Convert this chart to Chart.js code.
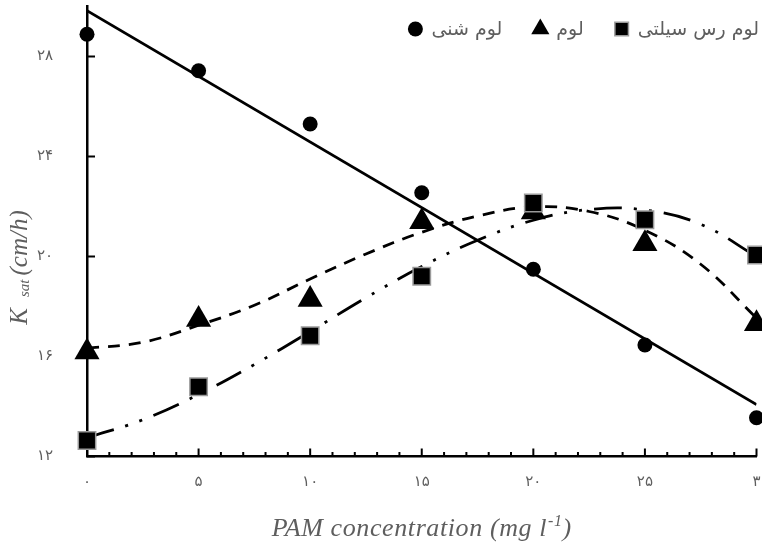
<!DOCTYPE html>
<html><head><meta charset="utf-8">
<script src="https://cdn.jsdelivr.net/npm/chart.js@4.4.1/dist/chart.umd.min.js"></script>
<style>html,body{margin:0;padding:0;background:#fff}#wrap{width:762px;height:544px;position:relative}</style>
</head><body><div id="wrap"><canvas id="c"></canvas></div>
<script>
// ---- data ----
const concentrations = [0, 5, 10, 15, 20, 25, 30];
const sandyLoam     = [28.89, 27.43, 25.30, 22.55, 19.49, 16.46, 13.55];
const loam          = [16.18, 17.48, 18.28, 21.39, 21.78, 20.51, 17.31];
const siltyClayLoam = [12.64, 14.79, 16.83, 19.21, 22.14, 21.47, 20.06];
// fitted trend lines
const sandyTrendX = [0, 30];
const sandyTrend  = [29.83, 14.08];
const curveX     = [0, 2.5, 5, 7.5, 10, 12.5, 15, 17.5, 20, 22.5, 25, 27.5, 30];
const loamTrend  = [16.33, 16.57, 17.25, 18.05, 19.10, 20.10, 20.97, 21.62, 21.98, 21.80, 21.05, 19.69, 17.54];
const siltyTrend = [12.75, 13.47, 14.48, 15.68, 17.00, 18.35, 19.60, 20.65, 21.45, 21.88, 21.86, 21.29, 20.00];
const seriesNames = ['لوم شنی', 'لوم', 'لوم رس سیلتی'];
const xTickValues = [0, 5, 10, 15, 20, 25, 30];
const xTickLabels = ['۰', '۵', '۱۰', '۱۵', '۲۰', '۲۵', '۳'];
const yTickValues = [12, 16, 20, 24, 28];
const yTickLabels = ['۱۲', '۱۶', '۲۰', '۲۴', '۲۸'];
const xTitle = ['PAM concentration (mg l', '-1', ')'];
const yTitle = ['K', 'sat', '(cm/h)'];

const textGray = '#5e5e5e';
const pts = (xs, ys) => xs.map((x, i) => ({x: x, y: ys[i]}));

const styles = {
  sandy: {pointStyle: 'circle', pointRadius: 7.5, backgroundColor: '#000', borderColor: '#000', borderWidth: 0},
  loam:  {pointStyle: 'triangle', pointRadius: 14.5, backgroundColor: '#000', borderColor: '#000', borderWidth: 0},
  silty: {pointStyle: 'rect', pointRadius: 12.3, backgroundColor: '#000', borderColor: '#9a9a9a', borderWidth: 1.5}
};

const inwardTicks = {
  id: 'inwardTicks',
  beforeDatasetsDraw(chart) {
    const {ctx, chartArea, scales} = chart;
    ctx.save();
    ctx.strokeStyle = '#000'; ctx.lineWidth = 2; ctx.lineCap = 'butt';
    scales.x.ticks.forEach(t => {
      const px = scales.x.getPixelForValue(t.value);
      const len = xTickValues.includes(t.value) ? 8 : 4.5;
      ctx.beginPath(); ctx.moveTo(px, chartArea.bottom); ctx.lineTo(px, chartArea.bottom - len); ctx.stroke();
    });
    scales.y.ticks.forEach(t => {
      const py = scales.y.getPixelForValue(t.value);
      ctx.beginPath(); ctx.moveTo(chartArea.left, py); ctx.lineTo(chartArea.left + 8, py); ctx.stroke();
    });
    ctx.restore();
  }
};

const titlesAndLegend = {
  id: 'titlesAndLegend',
  afterDraw(chart) {
    const {ctx, chartArea} = chart;
    ctx.save();
    ctx.fillStyle = textGray;
    ctx.textBaseline = 'alphabetic'; ctx.textAlign = 'left';
    // x title
    ctx.letterSpacing = '0.6px';
    const big = 'italic 26px "Liberation Serif"', small = 'italic 16px "Liberation Serif"';
    ctx.font = big; const w1 = ctx.measureText(xTitle[0]).width, w3 = ctx.measureText(xTitle[2]).width;
    ctx.font = small; const w2 = ctx.measureText(xTitle[1]).width;
    let xx = (chartArea.left + chartArea.right) / 2 - (w1 + w2 + w3 + 1) / 2;
    const by = 536;
    ctx.font = big; ctx.fillText(xTitle[0], xx, by); xx += w1 + 1;
    ctx.font = small; ctx.fillText(xTitle[1], xx, by - 10); xx += w2;
    ctx.font = big; ctx.fillText(xTitle[2], xx, by);
    ctx.letterSpacing = '0px';
    // y title (rotated)
    ctx.save();
    ctx.translate(27, 267.5); ctx.rotate(-Math.PI / 2);
    const yb = 'italic 25px "Liberation Serif"', ys = 'italic 15px "Liberation Serif"';
    ctx.font = yb; const k = ctx.measureText(yTitle[0]).width, u = ctx.measureText(yTitle[2]).width;
    ctx.font = ys; const s = ctx.measureText(yTitle[1]).width;
    const g1 = 11, g2 = 4;
    let yy = -(k + g1 + s + g2 + u) / 2;
    ctx.font = yb; ctx.fillText(yTitle[0], yy, 0); yy += k + g1;
    ctx.font = ys; ctx.fillText(yTitle[1], yy, 2); yy += s + g2;
    ctx.font = yb; ctx.fillText(yTitle[2], yy, 0);
    ctx.restore();
    // legend (right aligned, markers left of their labels)
    const order = [styles.sandy, styles.loam, styles.silty];
    const legendRadius = [7.5, 10.5, 9.6];
    ctx.font = '19px "DejaVu Sans"';
    ctx.textBaseline = 'middle'; ctx.textAlign = 'right';
    let right = 759; const ly = 29;
    for (let i = order.length - 1; i >= 0; i--) {
      const w = ctx.measureText(seriesNames[i]).width;
      ctx.fillStyle = textGray;
      ctx.fillText(seriesNames[i], right, ly + 1);
      const mx = right - w - 16;
      ctx.fillStyle = order[i].backgroundColor;
      ctx.strokeStyle = order[i].borderColor;
      ctx.lineWidth = order[i].borderWidth;
      Chart.helpers.drawPoint(ctx, {pointStyle: order[i].pointStyle, radius: legendRadius[i], rotation: 0, borderWidth: order[i].borderWidth}, mx, ly);
      right = mx - 38;
    }
    ctx.restore();
  }
};

const lineBase = {pointRadius: 0, borderColor: '#000', borderWidth: 2.8, fill: false, showLine: true, tension: 0.4, borderCapStyle: 'butt'};

new Chart(document.getElementById('c'), {
  type: 'scatter',
  data: {
    datasets: [
      Object.assign({label: seriesNames[2], data: pts(concentrations, siltyClayLoam), showLine: false, clip: false}, styles.silty),
      Object.assign({label: seriesNames[1], data: pts(concentrations, loam), showLine: false, clip: false}, styles.loam),
      Object.assign({label: seriesNames[0], data: pts(concentrations, sandyLoam), showLine: false, clip: false}, styles.sandy),
      Object.assign({label: seriesNames[0] + ' trend', data: pts(sandyTrendX, sandyTrend)}, lineBase, {tension: 0}),
      Object.assign({label: seriesNames[1] + ' trend', data: pts(curveX, loamTrend), borderDash: [12, 9]}, lineBase),
      Object.assign({label: seriesNames[2] + ' trend', data: pts(curveX, siltyTrend), borderDash: [28, 12, 3, 12, 3, 12]}, lineBase)
    ]
  },
  options: {
    responsive: true, maintainAspectRatio: false, animation: false, devicePixelRatio: 1, events: [],
    layout: {autoPadding: false, padding: {left: 0, top: 6.5, right: 5.5, bottom: 0}},
    plugins: {legend: {display: false}, tooltip: {enabled: false}, title: {display: false}},
    scales: {
      x: {
        type: 'linear', min: 0, max: 30,
        afterBuildTicks: s => { const t = []; for (let v = 0; v <= 30; v++) t.push({value: v}); s.ticks = t; },
        afterFit: s => { s.height = 87.5; s.paddingLeft = 0; s.paddingRight = 0; },
        grid: {display: false, drawTicks: false},
        border: {display: true, color: '#000', width: 2.5},
        ticks: {autoSkip: false, maxRotation: 0, padding: 17, color: textGray, font: {family: '"DejaVu Sans"', size: 15},
          callback: v => { const i = xTickValues.indexOf(v); return i >= 0 ? xTickLabels[i] : ''; }}
      },
      y: {
        type: 'linear', min: 12, max: 30,
        afterBuildTicks: s => { s.ticks = yTickValues.map(v => ({value: v})); },
        afterFit: s => { s.width = 87; s.paddingTop = 0; s.paddingBottom = 0; },
        grid: {display: false, drawTicks: false},
        border: {display: true, color: '#000', width: 2.5},
        ticks: {padding: 34, color: textGray, font: {family: '"DejaVu Sans"', size: 15},
          callback: v => { const i = yTickValues.indexOf(v); return i >= 0 ? yTickLabels[i] : ''; }}
      }
    }
  },
  plugins: [inwardTicks, titlesAndLegend]
});
</script></body></html>
